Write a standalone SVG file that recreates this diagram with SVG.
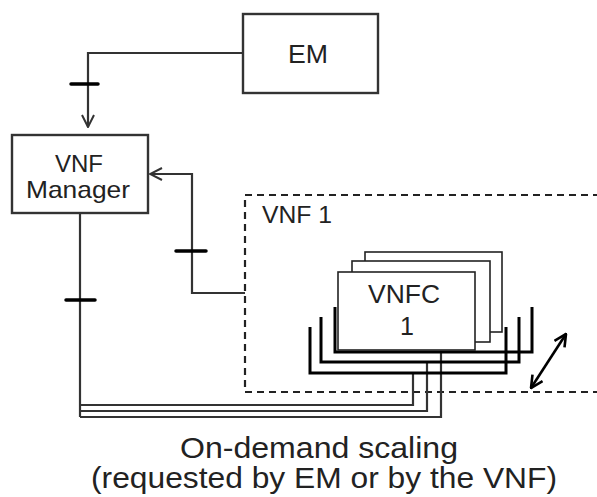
<svg xmlns="http://www.w3.org/2000/svg" width="597" height="497" viewBox="0 0 597 497">
<defs>
<style>
.box{fill:#fff;stroke:#333;stroke-width:2.4}
.vnfc{fill:#fff;stroke:#222;stroke-width:1.6}
.ln{fill:none;stroke:#333;stroke-width:2.2}
.tick{stroke:#000;stroke-width:3.5;stroke-linecap:round}
.u{fill:none;stroke:#000;stroke-width:3}
.dash{fill:none;stroke:#222;stroke-width:2.2;stroke-dasharray:7 5}
text{font-family:"Liberation Sans",Arial,sans-serif;fill:#222;text-anchor:middle}
</style>
<marker id="open" viewBox="0 0 14 14" refX="13" refY="7" markerWidth="14" markerHeight="14" markerUnits="userSpaceOnUse" orient="auto">
<path d="M1,1 L13,7 L1,13" fill="none" stroke="#333" stroke-width="2"/>
</marker>
<marker id="dbl" viewBox="0 0 14 14" refX="13" refY="7" markerWidth="14" markerHeight="14" markerUnits="userSpaceOnUse" orient="auto-start-reverse">
<path d="M1,1 L13,7 L1,13" fill="none" stroke="#000" stroke-width="2.6"/>
</marker>
</defs>
<rect width="597" height="497" fill="#fff"/>

<g id="vnf1">
<path class="dash" d="M600,195 H245 V392 H600"/>
<text x="297" y="223" font-size="24" textLength="70" lengthAdjust="spacingAndGlyphs">VNF 1</text>
</g>

<g id="connectors">
<path class="ln" d="M243,53 H88 V127" marker-end="url(#open)"/>
<line class="tick" x1="71" y1="84" x2="98" y2="84"/>
<path class="ln" d="M245,293 H192 V174 H150" marker-end="url(#open)"/>
<line class="tick" x1="176" y1="251" x2="206" y2="251"/>
<path class="ln" d="M80,213 V417"/>
<line class="tick" x1="66" y1="300" x2="95" y2="300"/>
<path class="ln" d="M80,405 H413 V373"/>
<path class="ln" d="M80,411 H427 V362"/>
<path class="ln" d="M80,417 H441 V352"/>
</g>

<g id="em">
<rect class="box" x="243" y="14" width="135" height="79"/>
<text x="308" y="63" font-size="25" textLength="40" lengthAdjust="spacingAndGlyphs">EM</text>
</g>

<g id="vnf-manager">
<rect class="box" x="12" y="135" width="136" height="78"/>
<text x="79" y="172" font-size="24">VNF</text>
<text x="78" y="198" font-size="24" textLength="104" lengthAdjust="spacingAndGlyphs">Manager</text>
</g>

<g id="vnfc">
<path class="u" d="M310,327 V373 H506 V327"/>
<path class="u" d="M321,317 V362 H519 V317"/>
<path class="u" d="M335,307 V352 H532 V307"/>
<rect class="vnfc" x="365" y="252" width="137" height="80"/>
<rect class="vnfc" x="352" y="261" width="138" height="81"/>
<rect class="vnfc" x="338" y="272" width="137" height="78"/>
<text x="404" y="303" font-size="25" textLength="72" lengthAdjust="spacingAndGlyphs">VNFC</text>
<text x="407" y="335" font-size="25">1</text>
</g>

<g id="scale-arrow">
<line x1="531" y1="388" x2="566" y2="334" stroke="#000" stroke-width="2.6" marker-start="url(#dbl)" marker-end="url(#dbl)"/>
</g>

<g id="caption">
<text x="319" y="458" font-size="29" textLength="278" lengthAdjust="spacingAndGlyphs">On-demand scaling</text>
<text x="324" y="488" font-size="29" textLength="466" lengthAdjust="spacingAndGlyphs">(requested by EM or by the VNF)</text>
</g>
</svg>
